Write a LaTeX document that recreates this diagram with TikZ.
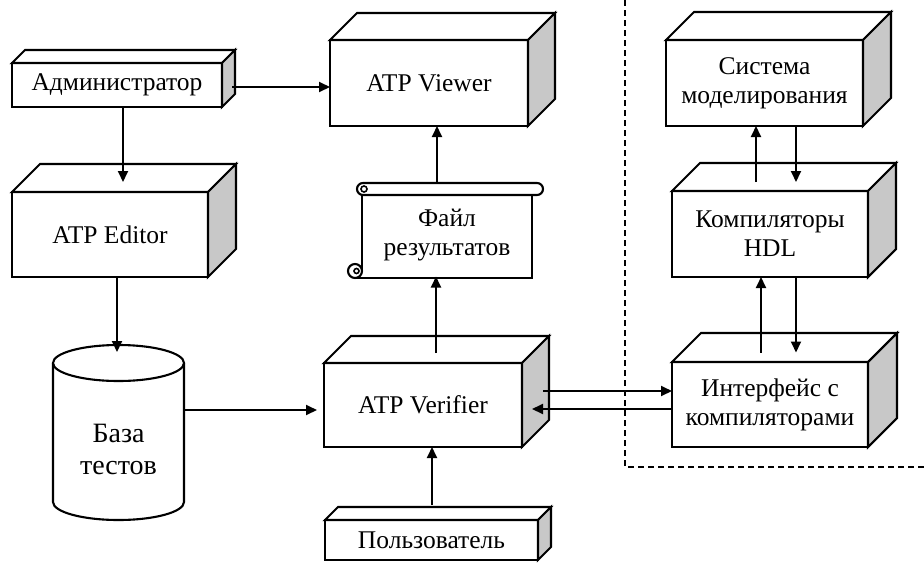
\documentclass[tikz,border=0pt]{standalone}
\usepackage{fontspec}
\setmainfont{Liberation Serif}
\usetikzlibrary{calc,arrows.meta}
\definecolor{sidegray}{RGB}{200,200,200}
\tikzset{
 boxline/.style={line width=2.1pt, line join=miter},
 front/.style={draw, boxline, fill=white, rectangle, inner sep=0pt, outer sep=0pt, align=center, font=\fontsize{25.5}{29}\selectfont},
 plain/.style={rectangle, inner sep=0pt, outer sep=0pt, align=center, font=\fontsize{25.5}{29}\selectfont},
 arr/.style={line width=1.9pt, -{Triangle[length=11pt,width=10pt]}},
}
\newcommand{\cubefaces}[2]{%
 \draw[boxline, fill=white] (#1.north west) -- ++(#2pt,#2pt) -- ($(#1.north east)+(#2pt,#2pt)$) -- (#1.north east) -- cycle;
 \draw[boxline, fill=sidegray] (#1.north east) -- ++(#2pt,#2pt) -- ($(#1.south east)+(#2pt,#2pt)$) -- (#1.south east) -- cycle;}
\begin{document}
\begin{tikzpicture}[x=1pt,y=-1pt]
\useasboundingbox (0,0) rectangle (924,563);
% dashed region
\draw[line width=1.4pt, dash pattern=on 6pt off 4pt] (625,0) -- (625,467) -- (924,467);
% 3D boxes
\node[front, minimum width=210pt, minimum height=44pt] (admin) at (117,85) {Администратор};
\cubefaces{admin}{13}
\node[front, minimum width=198pt, minimum height=86pt] (viewer) at (429,83) {ATP Viewer};
\cubefaces{viewer}{27}
\node[front, minimum width=196pt, minimum height=85pt] (editor) at (110,234.5) {ATP Editor};
\cubefaces{editor}{28}
\node[front, minimum width=198pt, minimum height=84pt] (verifier) at (423,405) {ATP Verifier};
\cubefaces{verifier}{27}
\node[front, minimum width=213pt, minimum height=40pt] (user) at (431.5,540) {Пользователь};
\cubefaces{user}{13}
\node[front, minimum width=197pt, minimum height=86pt] (sim) at (764.5,83) {Система\\моделирования};
\cubefaces{sim}{28}
\node[front, minimum width=196pt, minimum height=86pt] (hdl) at (770,234) {Компиляторы\\HDL};
\cubefaces{hdl}{28}
\node[front, minimum width=196pt, minimum height=85pt] (iface) at (770,404.5) {Интерфейс с\\компиляторами};
\cubefaces{iface}{29}
% scroll
\fill[white] (362,195) rectangle (532,278);
\draw[boxline] (532,195) -- (532,278) -- (355,278);
\draw[boxline] (362,195) -- (362,271);
\draw[boxline, fill=white] (355,271) circle[radius=7pt];
\draw[line width=1.6pt] (356.5,271) circle[radius=2.5pt];
\draw[boxline, fill=white, rounded corners=6pt] (357,183) rectangle (543,195);
\draw[line width=1.6pt] (364,189) circle[radius=3pt];
\node[plain, minimum width=170pt, minimum height=83pt] (scroll) at (447,235) {Файл\\результатов};
% database cylinder
\node[rectangle, inner sep=0pt, outer sep=0pt, minimum width=131pt, minimum height=175pt] (db) at (118.5,432.5) {};
\draw[boxline, fill=white] (53,363) -- (53,502) arc[start angle=180, end angle=360, x radius=65.5pt, y radius=18pt] -- (184,363);
\draw[boxline, fill=white] (118.5,363) ellipse [x radius=65.5pt, y radius=18pt];
\node[plain, font=\fontsize{28}{32}\selectfont] (dblabel) at (118.5,449) {База\\тестов};
% connectors
\draw[arr] ([xshift=10pt,yshift=-2pt]admin.east) -- ([yshift=-4pt]viewer.west);
\draw[arr] ([xshift=6pt]admin.south) -- ([xshift=13pt,yshift=10pt]editor.north);
\draw[arr] ([xshift=7pt]editor.south) -- ([xshift=-1.5pt,yshift=-7pt]db.north);
\draw[arr] ([yshift=22.5pt]db.east) -- ([xshift=-7pt,yshift=-5pt]verifier.west);
\coordinate (vtop) at ([xshift=13pt,yshift=10pt]verifier.north);
\draw[arr] (vtop) -- (vtop |- scroll.south);
\coordinate (stop) at ([xshift=-10pt,yshift=12pt]scroll.north);
\draw[arr] (stop) -- (stop |- viewer.south);
\coordinate (utop) at ([xshift=0.5pt,yshift=15pt]user.north);
\draw[arr] (utop) -- (utop |- verifier.south);
\draw[arr] ([xshift=21pt,yshift=14pt]verifier.east) -- ([yshift=13.5pt]iface.west);
\draw[arr] ([yshift=-4.5pt]iface.west) -- ([xshift=10pt,yshift=-4pt]verifier.east);
\coordinate (hup) at ([xshift=-14pt,yshift=9pt]hdl.north);
\draw[arr] (hup) -- (hup |- sim.south);
\coordinate (sdn) at ([xshift=31.5pt]sim.south);
\draw[arr] (sdn) -- (sdn |- hup);
\coordinate (iup) at ([xshift=-9pt,yshift=9.5pt]iface.north);
\draw[arr] (iup) -- (iup |- hdl.south);
\coordinate (hdn) at ([xshift=26pt]hdl.south);
\draw[arr] (hdn) -- (hdn |- iup);
\end{tikzpicture}
\end{document}
